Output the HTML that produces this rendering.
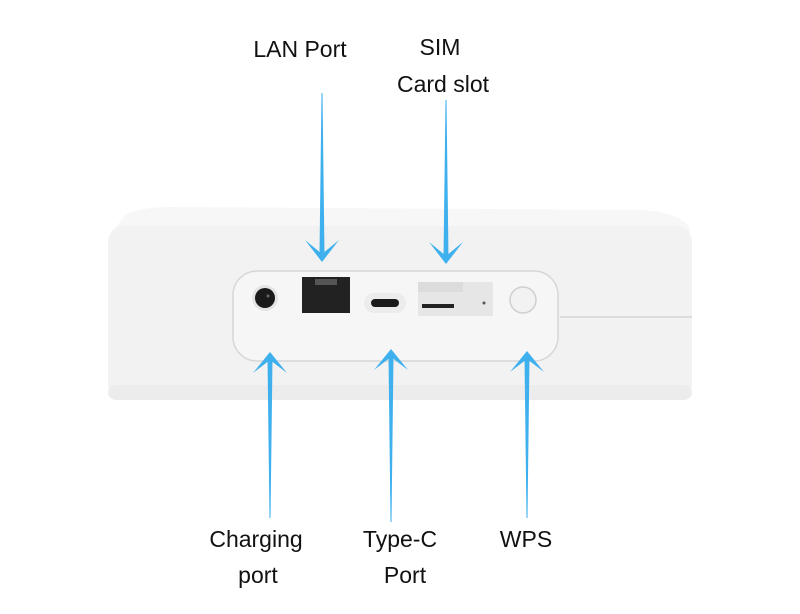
<!DOCTYPE html>
<html><head><meta charset="utf-8"><style>
html,body{margin:0;padding:0;background:#fff;}
svg{display:block}
text{font-family:"Liberation Sans",sans-serif;font-size:23px;fill:#111;text-anchor:middle}
</style></head><body>
<svg width="800" height="614" viewBox="0 0 800 614">
<rect width="800" height="614" fill="#fff"/>
<!-- top face -->
<path d="M125 215 Q140 207 170 207 L640 210 Q680 212 690 228 L690 235 L110 235 Z" fill="#f7f7f7"/>
<!-- body -->
<rect x="108" y="226" width="584" height="174" rx="16" fill="#f2f2f2"/>
<line x1="560" y1="317" x2="692" y2="317" stroke="#dcdcdc" stroke-width="2"/>
<rect x="108" y="385" width="584" height="15" rx="8" fill="#ececec"/>
<!-- panel -->
<rect x="233" y="271" width="325" height="90" rx="24" fill="#f6f6f6" stroke="#d6d6d6" stroke-width="1.5"/>
<!-- DC jack -->
<circle cx="265" cy="298" r="13" fill="#e4e4e4"/>
<circle cx="265" cy="298" r="10" fill="#1a1a1a"/>
<circle cx="268" cy="296" r="1.5" fill="#666"/>
<!-- LAN -->
<rect x="302" y="277" width="48" height="36" fill="#222"/>
<rect x="315" y="279" width="22" height="6" fill="#555"/>
<!-- type C -->
<rect x="364" y="293" width="42" height="20" rx="10" fill="#ececec"/>
<rect x="371" y="299" width="28" height="8" rx="4" fill="#1a1a1a"/>
<!-- SIM -->
<rect x="418" y="282" width="75" height="34" rx="2" fill="#e6e6e6"/>
<rect x="418" y="282" width="45" height="10" fill="#dcdcdc"/>
<rect x="422" y="304" width="32" height="4" fill="#222"/>
<circle cx="484" cy="303" r="1.5" fill="#555"/>
<!-- WPS -->
<circle cx="523" cy="300" r="13" fill="#f2f2f2" stroke="#cfcfcf" stroke-width="1.5"/>
<!-- arrows -->
<g fill="#3fb0ee">
<polygon points="321.5,93 322.5,93 324.5,255 319.5,255"/>
<polygon points="305,240 322,262 339,240 322,254"/>
<polygon points="445.5,100 446.5,100 448.5,258 443.5,258"/>
<polygon points="429,242 446,264 463,242 446,256"/>
<polygon points="267.5,358 272.5,358 270.5,518 269.5,518"/>
<polygon points="253,373 270,352 287,373 270,360"/>
<polygon points="388.5,355 393.5,355 391.5,522 390.5,522"/>
<polygon points="374,370 391,349 408,370 391,357"/>
<polygon points="524.5,357 529.5,357 527.5,518 526.5,518"/>
<polygon points="510,372 527,351 544,372 527,359"/>
</g>
<!-- labels -->
<text x="300" y="57">LAN Port</text>
<text x="440" y="55">SIM</text>
<text x="443" y="92">Card slot</text>
<text x="256" y="547">Charging</text>
<text x="258" y="583">port</text>
<text x="400" y="547">Type-C</text>
<text x="405" y="583">Port</text>
<text x="526" y="547">WPS</text>
</svg>
</body></html>
